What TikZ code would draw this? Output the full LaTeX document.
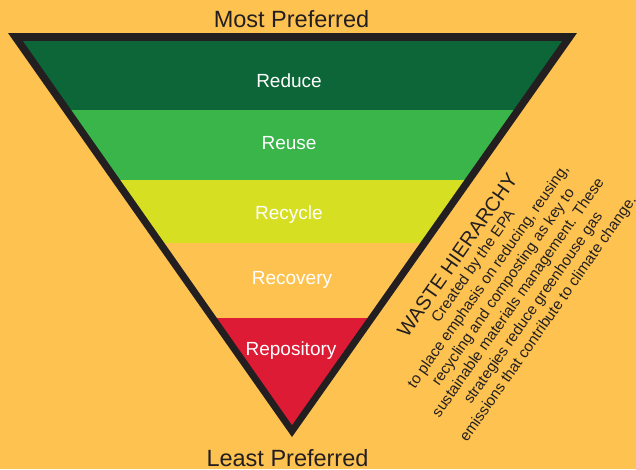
\documentclass[tikz,border=0pt]{standalone}
\usepackage{fontspec}
\setmainfont{Liberation Sans}
\definecolor{bg}{HTML}{FEC250}
\definecolor{edge}{HTML}{231F20}
\definecolor{reducec}{HTML}{0D6638}
\definecolor{reusec}{HTML}{39B54A}
\definecolor{recyclec}{HTML}{D7DF23}
\definecolor{repoc}{HTML}{DD1B34}
\tikzset{
  band/.style={font=\fontsize{19}{21}\selectfont, text=white, anchor=base, inner sep=0pt},
  endlabel/.style={font=\fontsize{23.5}{26}\selectfont, text=edge, anchor=base, inner sep=0pt},
  note/.style={font=\fontsize{15.2}{18.3}\selectfont, text=edge, align=center, rotate=55, inner sep=0pt}
}
\begin{document}
\begin{tikzpicture}[x=1pt,y=-1pt]
\fill[bg] (0,0) rectangle (636,469);
\useasboundingbox (0,0) rectangle (636,469);
\fill[edge] (8,33) -- (577,33) -- (292,437) -- cycle;
\begin{scope}
\clip (23,41) -- (562,41) -- (292,425) -- cycle;
\fill[reducec] (0,41) rectangle (636,110);
\fill[reusec] (0,110) rectangle (636,180);
\fill[recyclec] (0,180) rectangle (636,243);
\fill[bg] (0,243) rectangle (636,318);
\fill[repoc] (0,318) rectangle (636,430);
\end{scope}
\node[band] (reduce) at (289,87) {Reduce};
\node[band] (reuse) at (289,149.5) {Reuse};
\node[band] (recycle) at (289,219.5) {Recycle};
\node[band] (recovery) at (292,284.5) {Recovery};
\node[band] (repository) at (291,355) {Repository};
\node[endlabel] (most) at (291.5,27) {Most Preferred};
\node[endlabel] (least) at (287.5,466) {Least Preferred};
\node[note] (info) at (503,287) {{\fontsize{20}{22}\selectfont WASTE HIERARCHY}\\[-1pt]
Created by the EPA\\
to place emphasis on reducing, reusing,\\
recycling and composting as key to\\
sustainable materials management. These\\
strategies reduce greenhouse gas\\
emissions that contribute to climate change.};
\end{tikzpicture}
\end{document}
